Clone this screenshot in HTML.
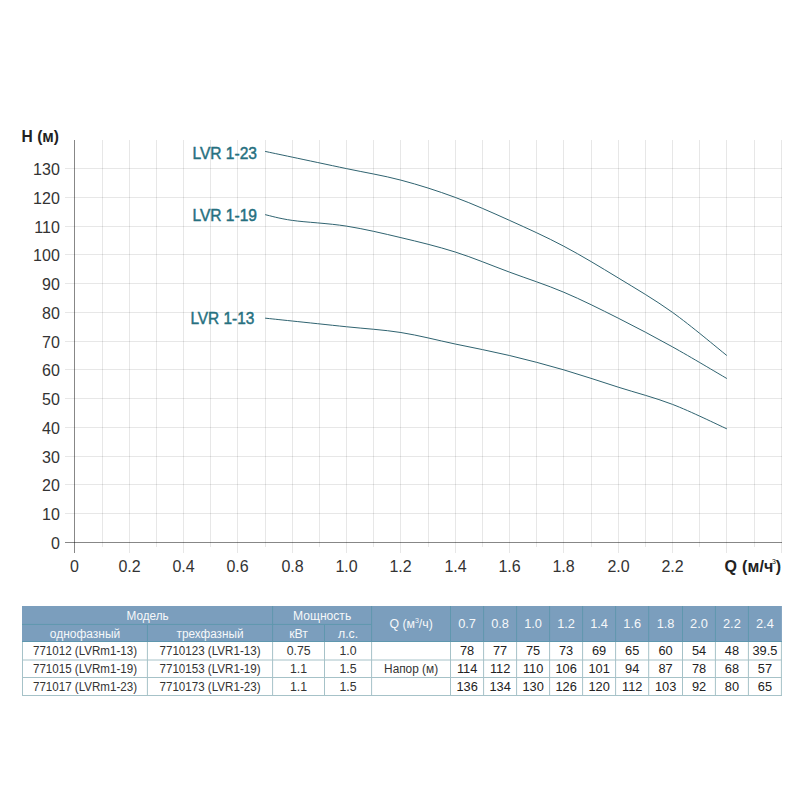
<!DOCTYPE html><html><head><meta charset="utf-8"><title>LVR</title><style>
html,body{margin:0;padding:0;background:#fff;width:800px;height:800px;overflow:hidden}
svg{display:block;font-family:"Liberation Sans", sans-serif}
</style></head><body>
<svg width="800" height="800" viewBox="0 0 800 800">
<rect width="800" height="800" fill="#fff"/>
<line x1="65" y1="513.5" x2="782" y2="513.5" stroke="rgba(0,0,0,0.095)"/>
<line x1="65" y1="484.5" x2="782" y2="484.5" stroke="rgba(0,0,0,0.095)"/>
<line x1="65" y1="456.5" x2="782" y2="456.5" stroke="rgba(0,0,0,0.095)"/>
<line x1="65" y1="427.5" x2="782" y2="427.5" stroke="rgba(0,0,0,0.095)"/>
<line x1="65" y1="398.5" x2="782" y2="398.5" stroke="rgba(0,0,0,0.095)"/>
<line x1="65" y1="369.5" x2="782" y2="369.5" stroke="rgba(0,0,0,0.095)"/>
<line x1="65" y1="341.5" x2="782" y2="341.5" stroke="rgba(0,0,0,0.095)"/>
<line x1="65" y1="312.5" x2="782" y2="312.5" stroke="rgba(0,0,0,0.095)"/>
<line x1="65" y1="283.5" x2="782" y2="283.5" stroke="rgba(0,0,0,0.095)"/>
<line x1="65" y1="254.5" x2="782" y2="254.5" stroke="rgba(0,0,0,0.095)"/>
<line x1="65" y1="226.5" x2="782" y2="226.5" stroke="rgba(0,0,0,0.095)"/>
<line x1="65" y1="197.5" x2="782" y2="197.5" stroke="rgba(0,0,0,0.095)"/>
<line x1="65" y1="168.5" x2="782" y2="168.5" stroke="rgba(0,0,0,0.095)"/>
<line x1="102.5" y1="140" x2="102.5" y2="547" stroke="rgba(0,0,0,0.095)"/>
<line x1="129.5" y1="140" x2="129.5" y2="553" stroke="rgba(0,0,0,0.095)"/>
<line x1="156.5" y1="140" x2="156.5" y2="547" stroke="rgba(0,0,0,0.095)"/>
<line x1="183.5" y1="140" x2="183.5" y2="553" stroke="rgba(0,0,0,0.095)"/>
<line x1="210.5" y1="140" x2="210.5" y2="547" stroke="rgba(0,0,0,0.095)"/>
<line x1="237.5" y1="140" x2="237.5" y2="553" stroke="rgba(0,0,0,0.095)"/>
<line x1="265.5" y1="140" x2="265.5" y2="547" stroke="rgba(0,0,0,0.095)"/>
<line x1="292.5" y1="140" x2="292.5" y2="553" stroke="rgba(0,0,0,0.095)"/>
<line x1="319.5" y1="140" x2="319.5" y2="547" stroke="rgba(0,0,0,0.095)"/>
<line x1="346.5" y1="140" x2="346.5" y2="553" stroke="rgba(0,0,0,0.095)"/>
<line x1="373.5" y1="140" x2="373.5" y2="547" stroke="rgba(0,0,0,0.095)"/>
<line x1="400.5" y1="140" x2="400.5" y2="553" stroke="rgba(0,0,0,0.095)"/>
<line x1="428.5" y1="140" x2="428.5" y2="547" stroke="rgba(0,0,0,0.095)"/>
<line x1="455.5" y1="140" x2="455.5" y2="553" stroke="rgba(0,0,0,0.095)"/>
<line x1="482.5" y1="140" x2="482.5" y2="547" stroke="rgba(0,0,0,0.095)"/>
<line x1="509.5" y1="140" x2="509.5" y2="553" stroke="rgba(0,0,0,0.095)"/>
<line x1="536.5" y1="140" x2="536.5" y2="547" stroke="rgba(0,0,0,0.095)"/>
<line x1="563.5" y1="140" x2="563.5" y2="553" stroke="rgba(0,0,0,0.095)"/>
<line x1="591.5" y1="140" x2="591.5" y2="547" stroke="rgba(0,0,0,0.095)"/>
<line x1="618.5" y1="140" x2="618.5" y2="553" stroke="rgba(0,0,0,0.095)"/>
<line x1="645.5" y1="140" x2="645.5" y2="547" stroke="rgba(0,0,0,0.095)"/>
<line x1="672.5" y1="140" x2="672.5" y2="553" stroke="rgba(0,0,0,0.095)"/>
<line x1="699.5" y1="140" x2="699.5" y2="547" stroke="rgba(0,0,0,0.095)"/>
<line x1="726.5" y1="140" x2="726.5" y2="553" stroke="rgba(0,0,0,0.095)"/>
<line x1="754.5" y1="140" x2="754.5" y2="547" stroke="rgba(0,0,0,0.095)"/>
<line x1="781.5" y1="140" x2="781.5" y2="553" stroke="rgba(0,0,0,0.095)"/>
<line x1="74.5" y1="140" x2="74.5" y2="553" stroke="rgba(0,0,0,0.47)"/>
<line x1="65" y1="542.5" x2="782" y2="542.5" stroke="rgba(0,0,0,0.47)"/>
<text x="59.8" y="548.5" text-anchor="end" font-size="16" fill="#333333">0</text>
<text x="59.8" y="519.5" text-anchor="end" font-size="16" fill="#333333">10</text>
<text x="59.8" y="490.5" text-anchor="end" font-size="16" fill="#333333">20</text>
<text x="59.8" y="462.5" text-anchor="end" font-size="16" fill="#333333">30</text>
<text x="59.8" y="433.5" text-anchor="end" font-size="16" fill="#333333">40</text>
<text x="59.8" y="404.5" text-anchor="end" font-size="16" fill="#333333">50</text>
<text x="59.8" y="375.5" text-anchor="end" font-size="16" fill="#333333">60</text>
<text x="59.8" y="347.5" text-anchor="end" font-size="16" fill="#333333">70</text>
<text x="59.8" y="318.5" text-anchor="end" font-size="16" fill="#333333">80</text>
<text x="59.8" y="289.5" text-anchor="end" font-size="16" fill="#333333">90</text>
<text x="59.8" y="260.5" text-anchor="end" font-size="16" fill="#333333">100</text>
<text x="59.8" y="232.5" text-anchor="end" font-size="16" fill="#333333">110</text>
<text x="59.8" y="203.5" text-anchor="end" font-size="16" fill="#333333">120</text>
<text x="59.8" y="174.5" text-anchor="end" font-size="16" fill="#333333">130</text>
<text x="74.5" y="571.9" text-anchor="middle" font-size="16" fill="#333333">0</text>
<text x="129.5" y="571.9" text-anchor="middle" font-size="16" fill="#333333">0.2</text>
<text x="183.5" y="571.9" text-anchor="middle" font-size="16" fill="#333333">0.4</text>
<text x="237.5" y="571.9" text-anchor="middle" font-size="16" fill="#333333">0.6</text>
<text x="292.5" y="571.9" text-anchor="middle" font-size="16" fill="#333333">0.8</text>
<text x="346.5" y="571.9" text-anchor="middle" font-size="16" fill="#333333">1.0</text>
<text x="400.5" y="571.9" text-anchor="middle" font-size="16" fill="#333333">1.2</text>
<text x="455.5" y="571.9" text-anchor="middle" font-size="16" fill="#333333">1.4</text>
<text x="509.5" y="571.9" text-anchor="middle" font-size="16" fill="#333333">1.6</text>
<text x="563.5" y="571.9" text-anchor="middle" font-size="16" fill="#333333">1.8</text>
<text x="618.5" y="571.9" text-anchor="middle" font-size="16" fill="#333333">2.0</text>
<text x="672.5" y="571.9" text-anchor="middle" font-size="16" fill="#333333">2.2</text>
<text x="21.6" y="141.9" font-size="16" font-weight="bold" fill="#222" textLength="37.4" lengthAdjust="spacingAndGlyphs">H (м)</text>
<text x="724.6" y="571.7" font-size="16" font-weight="bold" fill="#222" letter-spacing="0.2">Q (м/ч<tspan font-size="7" font-weight="normal" dx="-1.5" dy="-7.5">3</tspan><tspan dx="-0.5" dy="7.5">)</tspan></text>
<path d="M265.12,318.15 C269.65,318.63 278.70,319.59 292.28,321.02 C305.86,322.46 328.49,324.86 346.60,326.77 C364.71,328.69 382.81,329.65 400.92,332.52 C419.03,335.40 437.13,340.19 455.24,344.02 C473.35,347.86 491.45,351.21 509.56,355.52 C527.67,359.84 545.77,364.63 563.88,369.90 C581.99,375.17 600.09,381.40 618.20,387.15 C636.31,392.90 654.41,397.45 672.52,404.40 C690.63,411.35 717.79,424.76 726.84,428.84" fill="none" stroke="#2f6370" stroke-width="1.0"/>
<path d="M265.12,214.65 C269.65,215.61 278.70,218.48 292.28,220.40 C305.86,222.32 328.49,223.27 346.60,226.15 C364.71,229.02 382.81,233.34 400.92,237.65 C419.03,241.96 437.13,246.27 455.24,252.02 C473.35,257.77 491.45,265.44 509.56,272.15 C527.67,278.86 545.77,284.61 563.88,292.27 C581.99,299.94 600.09,309.05 618.20,318.15 C636.31,327.25 654.41,336.84 672.52,346.90 C690.63,356.96 717.79,373.25 726.84,378.52" fill="none" stroke="#2f6370" stroke-width="1.0"/>
<path d="M265.12,151.40 C269.65,152.36 278.70,154.27 292.28,157.15 C305.86,160.02 328.49,164.82 346.60,168.65 C364.71,172.48 382.81,175.36 400.92,180.15 C419.03,184.94 437.13,190.69 455.24,197.40 C473.35,204.11 491.45,212.25 509.56,220.40 C527.67,228.55 545.77,236.69 563.88,246.27 C581.99,255.86 600.09,266.88 618.20,277.90 C636.31,288.92 654.41,299.46 672.52,312.40 C690.63,325.34 717.79,348.34 726.84,355.52" fill="none" stroke="#2f6370" stroke-width="1.0"/>
<text x="192.4" y="159.0" font-size="15.7" fill="#26707f" stroke="#26707f" stroke-width="0.45" textLength="64.6" lengthAdjust="spacingAndGlyphs">LVR 1-23</text>
<text x="192.4" y="221.0" font-size="15.7" fill="#26707f" stroke="#26707f" stroke-width="0.45" textLength="64.6" lengthAdjust="spacingAndGlyphs">LVR 1-19</text>
<text x="190.4" y="324.2" font-size="15.7" fill="#26707f" stroke="#26707f" stroke-width="0.45" textLength="64.0" lengthAdjust="spacingAndGlyphs">LVR 1-13</text>
<rect x="22" y="606" width="759.9" height="36" fill="#7b9ebd"/>
<line x1="22.0" y1="660.0" x2="781.9" y2="660.0" stroke="#a6c2c8"/>
<line x1="22.0" y1="677.5" x2="781.9" y2="677.5" stroke="#a6c2c8"/>
<line x1="22.0" y1="695.5" x2="781.9" y2="695.5" stroke="#a6c2c8"/>
<line x1="22.5" y1="642" x2="22.5" y2="696" stroke="#a6c2c8"/>
<line x1="147.4" y1="642" x2="147.4" y2="696" stroke="#a6c2c8"/>
<line x1="272.6" y1="642" x2="272.6" y2="696" stroke="#a6c2c8"/>
<line x1="324.5" y1="642" x2="324.5" y2="696" stroke="#a6c2c8"/>
<line x1="371.6" y1="642" x2="371.6" y2="696" stroke="#a6c2c8"/>
<line x1="450.5" y1="642" x2="450.5" y2="696" stroke="#a6c2c8"/>
<line x1="483.6" y1="642" x2="483.6" y2="696" stroke="#a6c2c8"/>
<line x1="516.6" y1="642" x2="516.6" y2="696" stroke="#a6c2c8"/>
<line x1="549.6" y1="642" x2="549.6" y2="696" stroke="#a6c2c8"/>
<line x1="582.6" y1="642" x2="582.6" y2="696" stroke="#a6c2c8"/>
<line x1="615.6" y1="642" x2="615.6" y2="696" stroke="#a6c2c8"/>
<line x1="648.7" y1="642" x2="648.7" y2="696" stroke="#a6c2c8"/>
<line x1="682.5" y1="642" x2="682.5" y2="696" stroke="#a6c2c8"/>
<line x1="715.4" y1="642" x2="715.4" y2="696" stroke="#a6c2c8"/>
<line x1="748.4" y1="642" x2="748.4" y2="696" stroke="#a6c2c8"/>
<line x1="781.4" y1="642" x2="781.4" y2="696" stroke="#a6c2c8"/>
<line x1="22.0" y1="624.4" x2="371.6" y2="624.4" stroke="#5f97ae"/>
<line x1="22.0" y1="641.5" x2="781.9" y2="641.5" stroke="#5f97ae"/>
<line x1="147.4" y1="624" x2="147.4" y2="642" stroke="#5f97ae"/>
<line x1="272.6" y1="606" x2="272.6" y2="642" stroke="#5f97ae"/>
<line x1="324.5" y1="624" x2="324.5" y2="642" stroke="#5f97ae"/>
<line x1="371.6" y1="606" x2="371.6" y2="642" stroke="#5f97ae"/>
<line x1="450.5" y1="606" x2="450.5" y2="642" stroke="#5f97ae"/>
<line x1="483.6" y1="606" x2="483.6" y2="642" stroke="#5f97ae"/>
<line x1="516.6" y1="606" x2="516.6" y2="642" stroke="#5f97ae"/>
<line x1="549.6" y1="606" x2="549.6" y2="642" stroke="#5f97ae"/>
<line x1="582.6" y1="606" x2="582.6" y2="642" stroke="#5f97ae"/>
<line x1="615.6" y1="606" x2="615.6" y2="642" stroke="#5f97ae"/>
<line x1="648.7" y1="606" x2="648.7" y2="642" stroke="#5f97ae"/>
<line x1="682.5" y1="606" x2="682.5" y2="642" stroke="#5f97ae"/>
<line x1="715.4" y1="606" x2="715.4" y2="642" stroke="#5f97ae"/>
<line x1="748.4" y1="606" x2="748.4" y2="642" stroke="#5f97ae"/>
<text x="147.6" y="620.2" text-anchor="middle" font-size="12.3" fill="#f6f8fa" textLength="42.2" lengthAdjust="spacingAndGlyphs">Модель</text>
<text x="322.1" y="620.2" text-anchor="middle" font-size="12.3" fill="#f6f8fa" textLength="58.2" lengthAdjust="spacingAndGlyphs">Мощность</text>
<text x="85.0" y="638.2" text-anchor="middle" font-size="12.3" fill="#f6f8fa" textLength="70.4" lengthAdjust="spacingAndGlyphs">однофазный</text>
<text x="210.0" y="638.2" text-anchor="middle" font-size="12.3" fill="#f6f8fa" textLength="67" lengthAdjust="spacingAndGlyphs">трехфазный</text>
<text x="298.6" y="638.2" text-anchor="middle" font-size="12.3" fill="#f6f8fa">кВт</text>
<text x="348.1" y="638.2" text-anchor="middle" font-size="12.3" fill="#f6f8fa">л.с.</text>
<text x="411.1" y="628.2" text-anchor="middle" font-size="12.3" fill="#f6f8fa">Q (м<tspan font-size="7" dy="-5">3</tspan><tspan dy="5">/ч)</tspan></text>
<text x="467.1" y="628.2" text-anchor="middle" font-size="12.8" fill="#f6f8fa">0.7</text>
<text x="500.1" y="628.2" text-anchor="middle" font-size="12.8" fill="#f6f8fa">0.8</text>
<text x="533.1" y="628.2" text-anchor="middle" font-size="12.8" fill="#f6f8fa">1.0</text>
<text x="566.1" y="628.2" text-anchor="middle" font-size="12.8" fill="#f6f8fa">1.2</text>
<text x="599.1" y="628.2" text-anchor="middle" font-size="12.8" fill="#f6f8fa">1.4</text>
<text x="632.2" y="628.2" text-anchor="middle" font-size="12.8" fill="#f6f8fa">1.6</text>
<text x="665.6" y="628.2" text-anchor="middle" font-size="12.8" fill="#f6f8fa">1.8</text>
<text x="699.0" y="628.2" text-anchor="middle" font-size="12.8" fill="#f6f8fa">2.0</text>
<text x="731.9" y="628.2" text-anchor="middle" font-size="12.8" fill="#f6f8fa">2.2</text>
<text x="764.9" y="628.2" text-anchor="middle" font-size="12.8" fill="#f6f8fa">2.4</text>
<text x="85.0" y="655.2" text-anchor="middle" font-size="12" fill="#333" textLength="104" lengthAdjust="spacingAndGlyphs">771012 (LVRm1-13)</text>
<text x="210.0" y="655.2" text-anchor="middle" font-size="12" fill="#333" textLength="101" lengthAdjust="spacingAndGlyphs">7710123 (LVR1-13)</text>
<text x="298.6" y="655.2" text-anchor="middle" font-size="12.3" fill="#333">0.75</text>
<text x="348.1" y="655.2" text-anchor="middle" font-size="12.3" fill="#333">1.0</text>
<text x="467.1" y="655.2" text-anchor="middle" font-size="12.8" fill="#222">78</text>
<text x="500.1" y="655.2" text-anchor="middle" font-size="12.8" fill="#222">77</text>
<text x="533.1" y="655.2" text-anchor="middle" font-size="12.8" fill="#222">75</text>
<text x="566.1" y="655.2" text-anchor="middle" font-size="12.8" fill="#222">73</text>
<text x="599.1" y="655.2" text-anchor="middle" font-size="12.8" fill="#222">69</text>
<text x="632.2" y="655.2" text-anchor="middle" font-size="12.8" fill="#222">65</text>
<text x="665.6" y="655.2" text-anchor="middle" font-size="12.8" fill="#222">60</text>
<text x="699.0" y="655.2" text-anchor="middle" font-size="12.8" fill="#222">54</text>
<text x="731.9" y="655.2" text-anchor="middle" font-size="12.8" fill="#222">48</text>
<text x="764.9" y="655.2" text-anchor="middle" font-size="12.8" fill="#222">39.5</text>
<text x="85.0" y="673.2" text-anchor="middle" font-size="12" fill="#333" textLength="104" lengthAdjust="spacingAndGlyphs">771015 (LVRm1-19)</text>
<text x="210.0" y="673.2" text-anchor="middle" font-size="12" fill="#333" textLength="101" lengthAdjust="spacingAndGlyphs">7710153 (LVR1-19)</text>
<text x="298.6" y="673.2" text-anchor="middle" font-size="12.3" fill="#333">1.1</text>
<text x="348.1" y="673.2" text-anchor="middle" font-size="12.3" fill="#333">1.5</text>
<text x="467.1" y="673.2" text-anchor="middle" font-size="12.8" fill="#222">114</text>
<text x="500.1" y="673.2" text-anchor="middle" font-size="12.8" fill="#222">112</text>
<text x="533.1" y="673.2" text-anchor="middle" font-size="12.8" fill="#222">110</text>
<text x="566.1" y="673.2" text-anchor="middle" font-size="12.8" fill="#222">106</text>
<text x="599.1" y="673.2" text-anchor="middle" font-size="12.8" fill="#222">101</text>
<text x="632.2" y="673.2" text-anchor="middle" font-size="12.8" fill="#222">94</text>
<text x="665.6" y="673.2" text-anchor="middle" font-size="12.8" fill="#222">87</text>
<text x="699.0" y="673.2" text-anchor="middle" font-size="12.8" fill="#222">78</text>
<text x="731.9" y="673.2" text-anchor="middle" font-size="12.8" fill="#222">68</text>
<text x="764.9" y="673.2" text-anchor="middle" font-size="12.8" fill="#222">57</text>
<text x="85.0" y="691.0" text-anchor="middle" font-size="12" fill="#333" textLength="104" lengthAdjust="spacingAndGlyphs">771017 (LVRm1-23)</text>
<text x="210.0" y="691.0" text-anchor="middle" font-size="12" fill="#333" textLength="101" lengthAdjust="spacingAndGlyphs">7710173 (LVR1-23)</text>
<text x="298.6" y="691.0" text-anchor="middle" font-size="12.3" fill="#333">1.1</text>
<text x="348.1" y="691.0" text-anchor="middle" font-size="12.3" fill="#333">1.5</text>
<text x="467.1" y="691.0" text-anchor="middle" font-size="12.8" fill="#222">136</text>
<text x="500.1" y="691.0" text-anchor="middle" font-size="12.8" fill="#222">134</text>
<text x="533.1" y="691.0" text-anchor="middle" font-size="12.8" fill="#222">130</text>
<text x="566.1" y="691.0" text-anchor="middle" font-size="12.8" fill="#222">126</text>
<text x="599.1" y="691.0" text-anchor="middle" font-size="12.8" fill="#222">120</text>
<text x="632.2" y="691.0" text-anchor="middle" font-size="12.8" fill="#222">112</text>
<text x="665.6" y="691.0" text-anchor="middle" font-size="12.8" fill="#222">103</text>
<text x="699.0" y="691.0" text-anchor="middle" font-size="12.8" fill="#222">92</text>
<text x="731.9" y="691.0" text-anchor="middle" font-size="12.8" fill="#222">80</text>
<text x="764.9" y="691.0" text-anchor="middle" font-size="12.8" fill="#222">65</text>
<text x="411.1" y="673.2" text-anchor="middle" font-size="12.3" fill="#333" textLength="54" lengthAdjust="spacingAndGlyphs">Напор (м)</text>
</svg></body></html>
